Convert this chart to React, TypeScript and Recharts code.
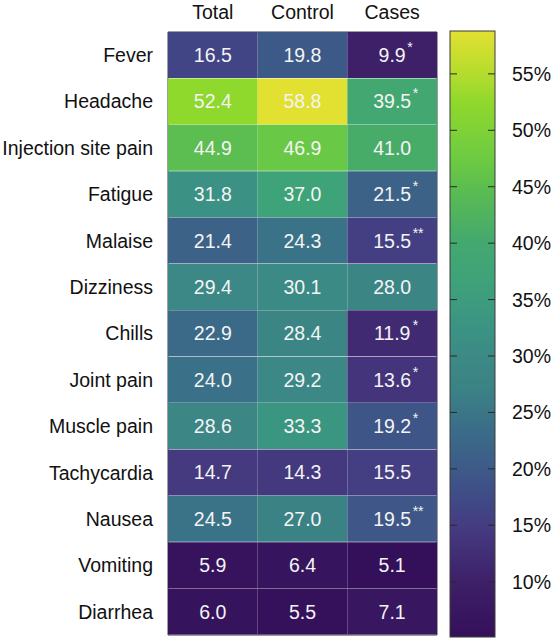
import { BarChart, Bar, XAxis, YAxis, Cell, LabelList, ReferenceArea } from "recharts";

const symptoms = [
  "Fever", "Headache", "Injection site pain", "Fatigue", "Malaise", "Dizziness", "Chills",
  "Joint pain", "Muscle pain", "Tachycardia", "Nausea", "Vomiting", "Diarrhea",
];
const groups = ["Total", "Control", "Cases"];
const totalPct = [16.5, 52.4, 44.9, 31.8, 21.4, 29.4, 22.9, 24.0, 28.6, 14.7, 24.5, 5.9, 6.0];
const controlPct = [19.8, 58.8, 46.9, 37.0, 24.3, 30.1, 28.4, 29.2, 33.3, 14.3, 27.0, 6.4, 5.5];
const casesPct = [9.9, 39.5, 41.0, 21.5, 15.5, 28.0, 11.9, 13.6, 19.2, 15.5, 19.5, 5.1, 7.1];
const casesSig = ["*", "*", "", "*", "**", "", "*", "*", "*", "", "**", "", ""];
const cbTicks = [10, 15, 20, 25, 30, 35, 40, 45, 50, 55];
const cbMin = 5.1;
const cbMax = 58.8;

// colour scale (value -> colour)
const colorStops: [number, string][] = [
  [5.1, "#35105a"],
  [10, "#3d2068"],
  [15, "#453c82"],
  [17, "#404886"],
  [20, "#3d5a88"],
  [24, "#3a7088"],
  [27, "#3b8285"],
  [30, "#3c8a86"],
  [33, "#3b9582"],
  [37, "#3fa379"],
  [40, "#43a86f"],
  [45, "#5cbd4f"],
  [47, "#6ac944"],
  [52.4, "#8fd82c"],
  [55, "#b4dc2d"],
  [58.8, "#e2e031"],
];

const FONT = "'Liberation Sans', Arial, Helvetica, sans-serif";
const FS = 19.5;

const hex = (c: string) => [1, 3, 5].map((i) => parseInt(c.slice(i, i + 2), 16));

const colorFor = (v: number) => {
  if (v <= colorStops[0][0]) return colorStops[0][1];
  for (let i = 1; i < colorStops.length; i++) {
    const [v1, c1] = colorStops[i];
    if (v <= v1) {
      const [v0, c0] = colorStops[i - 1];
      const t = (v - v0) / (v1 - v0);
      const a = hex(c0);
      const b = hex(c1);
      const m = a.map((x, k) => Math.round(x + (b[k] - x) * t));
      return `rgb(${m[0]},${m[1]},${m[2]})`;
    }
  }
  return colorStops[colorStops.length - 1][1];
};

const rows = symptoms.map((name, i) => ({
  name,
  total: totalPct[i],
  control: controlPct[i],
  cases: casesPct[i],
  totalLabel: `${totalPct[i].toFixed(1)}|`,
  controlLabel: `${controlPct[i].toFixed(1)}|`,
  casesLabel: `${casesPct[i].toFixed(1)}|${casesSig[i]}`,
  a: 1,
  b: 1,
  c: 1,
}));

const columns = [
  { key: "a", value: "total" },
  { key: "b", value: "control" },
  { key: "c", value: "cases" },
];

const CellText = (p: any) => {
  const [num, sig] = String(p.value).split("|");
  const cx = Number(p.x) + Number(p.width) / 2;
  const cy = Number(p.y) + Number(p.height) / 2;
  const digits = num.replace(".", "").length;
  const halfW = (FS * (digits * 0.556 + 0.278)) / 2;
  return (
    <g>
      <text x={cx} y={cy} dy="0.36em" textAnchor="middle" fill="#f4f4f4" fontSize={FS} fontFamily={FONT}>
        {num}
      </text>
      {sig ? (
        <text x={cx + halfW + 1.5} y={cy - 3} fill="#f4f4f4" fontSize={14} fontFamily={FONT}>
          {sig}
        </text>
      ) : null}
    </g>
  );
};

// colour bar rectangle with short tick marks on both inner edges
const ColorBarShape = (p: any) => {
  const { x, y, width, height } = p;
  return (
    <g>
      <rect x={x} y={y} width={width} height={height} fill="url(#cbGrad)" stroke="#3c3c3c" strokeWidth={1} />
      {cbTicks.map((t) => {
        const ty = y + ((cbMax - t) / (cbMax - cbMin)) * height;
        return (
          <g key={t} stroke="#2a2a2a" strokeWidth={1}>
            <line x1={x} x2={x + 7} y1={ty} y2={ty} />
            <line x1={x + width - 7} x2={x + width} y1={ty} y2={ty} />
          </g>
        );
      })}
    </g>
  );
};

export default function App() {
  return (
    <div style={{ position: "absolute", left: 0, top: 0, width: 551, height: 638, background: "#fff" }}>
      <div style={{ position: "absolute", left: 0, top: 0 }}>
        <BarChart
          width={440}
          height={638}
          data={rows}
          layout="vertical"
          margin={{ top: 0, right: 3, bottom: 3, left: 0 }}
          barCategoryGap={0}
        >
          <XAxis
            type="number"
            orientation="top"
            domain={[0, 3]}
            ticks={[0.5, 1.5, 2.5]}
            tickFormatter={(v: number) => groups[Math.floor(v)]}
            axisLine={false}
            tickLine={false}
            tickSize={0}
            tickMargin={13}
            height={32}
            tick={{ fill: "#111", fontSize: FS, fontFamily: FONT }}
          />
          <YAxis
            type="category"
            dataKey="name"
            width={168}
            axisLine={false}
            tickLine={false}
            tickSize={0}
            tickMargin={15}
            interval={0}
            tick={{ fill: "#111", fontSize: FS, fontFamily: FONT }}
          />
          {columns.map((col) => (
            <Bar key={col.key} dataKey={col.key} stackId="s" isAnimationActive={false}>
              {rows.map((r: any, i) => (
                <Cell key={i} fill={colorFor(r[col.value])} />
              ))}
              <LabelList dataKey={`${col.value}Label`} content={CellText} />
            </Bar>
          ))}
          <ReferenceArea x1={0} x2={3} fill="none" stroke="#3c3c3c" strokeWidth={1} ifOverflow="visible" />
        </BarChart>
      </div>
      <div style={{ position: "absolute", left: 440, top: 0 }}>
        <BarChart
          width={111}
          height={638}
          data={[{ k: "cb", span: [cbMin, cbMax] }]}
          margin={{ top: 31, right: 0, bottom: 1, left: 10 }}
          barCategoryGap={0}
        >
          <defs>
            <linearGradient id="cbGrad" x1="0" y1="0" x2="0" y2="1">
              {[...colorStops].reverse().map(([v, c]) => (
                <stop key={v} offset={(cbMax - v) / (cbMax - cbMin)} stopColor={c} />
              ))}
            </linearGradient>
          </defs>
          <XAxis dataKey="k" hide />
          <YAxis
            orientation="right"
            type="number"
            domain={[cbMin, cbMax]}
            ticks={cbTicks}
            tickFormatter={(v: number) => `${v}%`}
            width={56}
            axisLine={false}
            tickLine={false}
            tickSize={0}
            tickMargin={17}
            tick={{ fill: "#111", fontSize: FS, fontFamily: FONT }}
          />
          <Bar dataKey="span" shape={ColorBarShape} isAnimationActive={false} />
        </BarChart>
      </div>
    </div>
  );
}
